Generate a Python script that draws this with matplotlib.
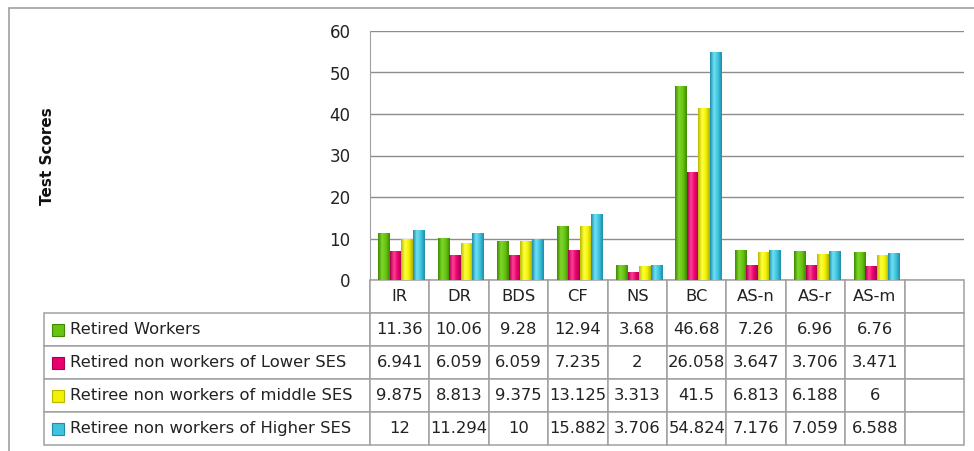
from matplotlib import pyplot as plt
from matplotlib.table import Table
from matplotlib.patches import Rectangle
from matplotlib.colors import LinearSegmentedColormap
import numpy as np

# Data
categories = ["IR", "DR", "BDS", "CF", "NS", "BC", "AS-n", "AS-r", "AS-m"]
series_names = ["Retired Workers",
                "Retired non workers of Lower SES",
                "Retiree non workers of middle SES",
                "Retiree non workers of Higher SES"]
retired_workers = [11.36, 10.06, 9.28, 12.94, 3.68, 46.68, 7.26, 6.96, 6.76]
lower_ses = [6.941, 6.059, 6.059, 7.235, 2, 26.058, 3.647, 3.706, 3.471]
middle_ses = [9.875, 8.813, 9.375, 13.125, 3.313, 41.5, 6.813, 6.188, 6]
higher_ses = [12, 11.294, 10, 15.882, 3.706, 54.824, 7.176, 7.059, 6.588]
series_values = [retired_workers, lower_ses, middle_ses, higher_ses]
table_text = [["11.36", "10.06", "9.28", "12.94", "3.68", "46.68", "7.26", "6.96", "6.76"],
              ["6.941", "6.059", "6.059", "7.235", "2", "26.058", "3.647", "3.706", "3.471"],
              ["9.875", "8.813", "9.375", "13.125", "3.313", "41.5", "6.813", "6.188", "6"],
              ["12", "11.294", "10", "15.882", "3.706", "54.824", "7.176", "7.059", "6.588"]]

# dark edge, light middle, dark edge for a rounded look
shades = [["#3f8a00", "#7fd62a", "#66c414", "#3f8a00"],
          ["#a8004e", "#ff3f95", "#e8006e", "#a8004e"],
          ["#b8b800", "#ffff40", "#f2f200", "#b0b000"],
          ["#1f8ca8", "#6fe0f4", "#3ec4de", "#1f8ca8"]]

W, H = 974, 451
fig = plt.figure(figsize=(W / 100, H / 100), dpi=100)
plt.rcParams['font.family'] = ['DejaVu Sans']

def px(x0, y0, x1, y1):
    # pixel box (from top-left) -> figure fraction [l, b, w, h]
    return [x0 / W, 1 - y1 / H, (x1 - x0) / W, (y1 - y0) / H]

# outer chart border
fig.patches.append(Rectangle((9 / W, -0.1), 1.2, 1.1 - 8 / H, transform=fig.transFigure,
                             fill=False, edgecolor="#a0a0a0", lw=1.2))

ax = fig.add_axes(px(370, 31, 964, 280))
ax.set_xlim(-0.5, len(categories) + 0.5)
ax.set_ylim(0, 60)
ax.set_yticks(np.arange(0, 61, 10))
ax.set_xticks([])
ax.tick_params(axis="y", length=0, pad=14, labelsize=12, labelcolor="#222222")
for s in ["top", "right", "bottom"]:
    ax.spines[s].set_visible(False)
ax.spines["left"].set_color("#a0a0a0")
ax.yaxis.grid(True, color="#8c8c8c", lw=1)
ax.set_axisbelow(True)

x = np.arange(len(categories))
bw = 0.194
for j, vals in enumerate(series_values):
    bars = ax.bar(x + (j - 1.5) * bw + 0.03, vals, bw, color="none", edgecolor="none", zorder=3)
    cmap = LinearSegmentedColormap.from_list("s%d" % j, shades[j])
    grad = np.linspace(0, 1, 64).reshape(1, -1)
    for b in bars:
        bx, by = b.get_x(), b.get_y()
        im = ax.imshow(grad, cmap=cmap, aspect="auto", zorder=3,
                       extent=[bx, bx + b.get_width(), by, by + b.get_height()])
        im.set_clip_path(b)
ax.set_xlim(-0.5, len(categories) + 0.5)
ax.set_ylim(0, 60)

fig.text(47 / W, 1 - 156 / H, "Test Scores", rotation=90, ha="center", va="center",
         fontsize=11, fontweight="bold", color="#111111")

# data table under the plot
ncols = len(categories) + 1
label_w = 326 / 920
data_w = 59.4 / 920
tbl = Table(ax, bbox=[(44 - 370) / 594, (280 - 445) / 249, 920 / 594, 165 / 249])
row_h = 1 / 5
hdr = [""] + categories + [""]
for c in range(ncols + 1):
    w = label_w if c == 0 else data_w
    cell = tbl.add_cell(0, c, width=w, height=row_h, text=hdr[c], loc="center",
                        edgecolor="#a0a0a0")
    if c == 0:
        cell.visible_edges = "R"
for r, name in enumerate(series_names):
    row = [name] + table_text[r] + [""]
    for c in range(ncols + 1):
        w = label_w if c == 0 else data_w
        cell = tbl.add_cell(r + 1, c, width=w, height=row_h, text=row[c],
                            loc="left" if c == 0 else "center", edgecolor="#a0a0a0")
        if c == 0:
            cell.PAD = 0.08
tbl.auto_set_font_size(False)
tbl.set_fontsize(11.8)
for cell in tbl.get_celld().values():
    cell.get_text().set_color("#222222")
    cell.set_linewidth(1.1)
ax.add_table(tbl)

# legend keys inside the row labels
row_centres = [329.5, 362.5, 395.5, 428.5]
for j, yc in enumerate(row_centres):
    fig.patches.append(Rectangle((52 / W, 1 - (yc + 6) / H), 12 / W, 12 / H,
                                 transform=fig.transFigure, facecolor=shades[j][2],
                                 edgecolor=shades[j][0], lw=0.8))

plt.savefig("out.png", dpi=100)
